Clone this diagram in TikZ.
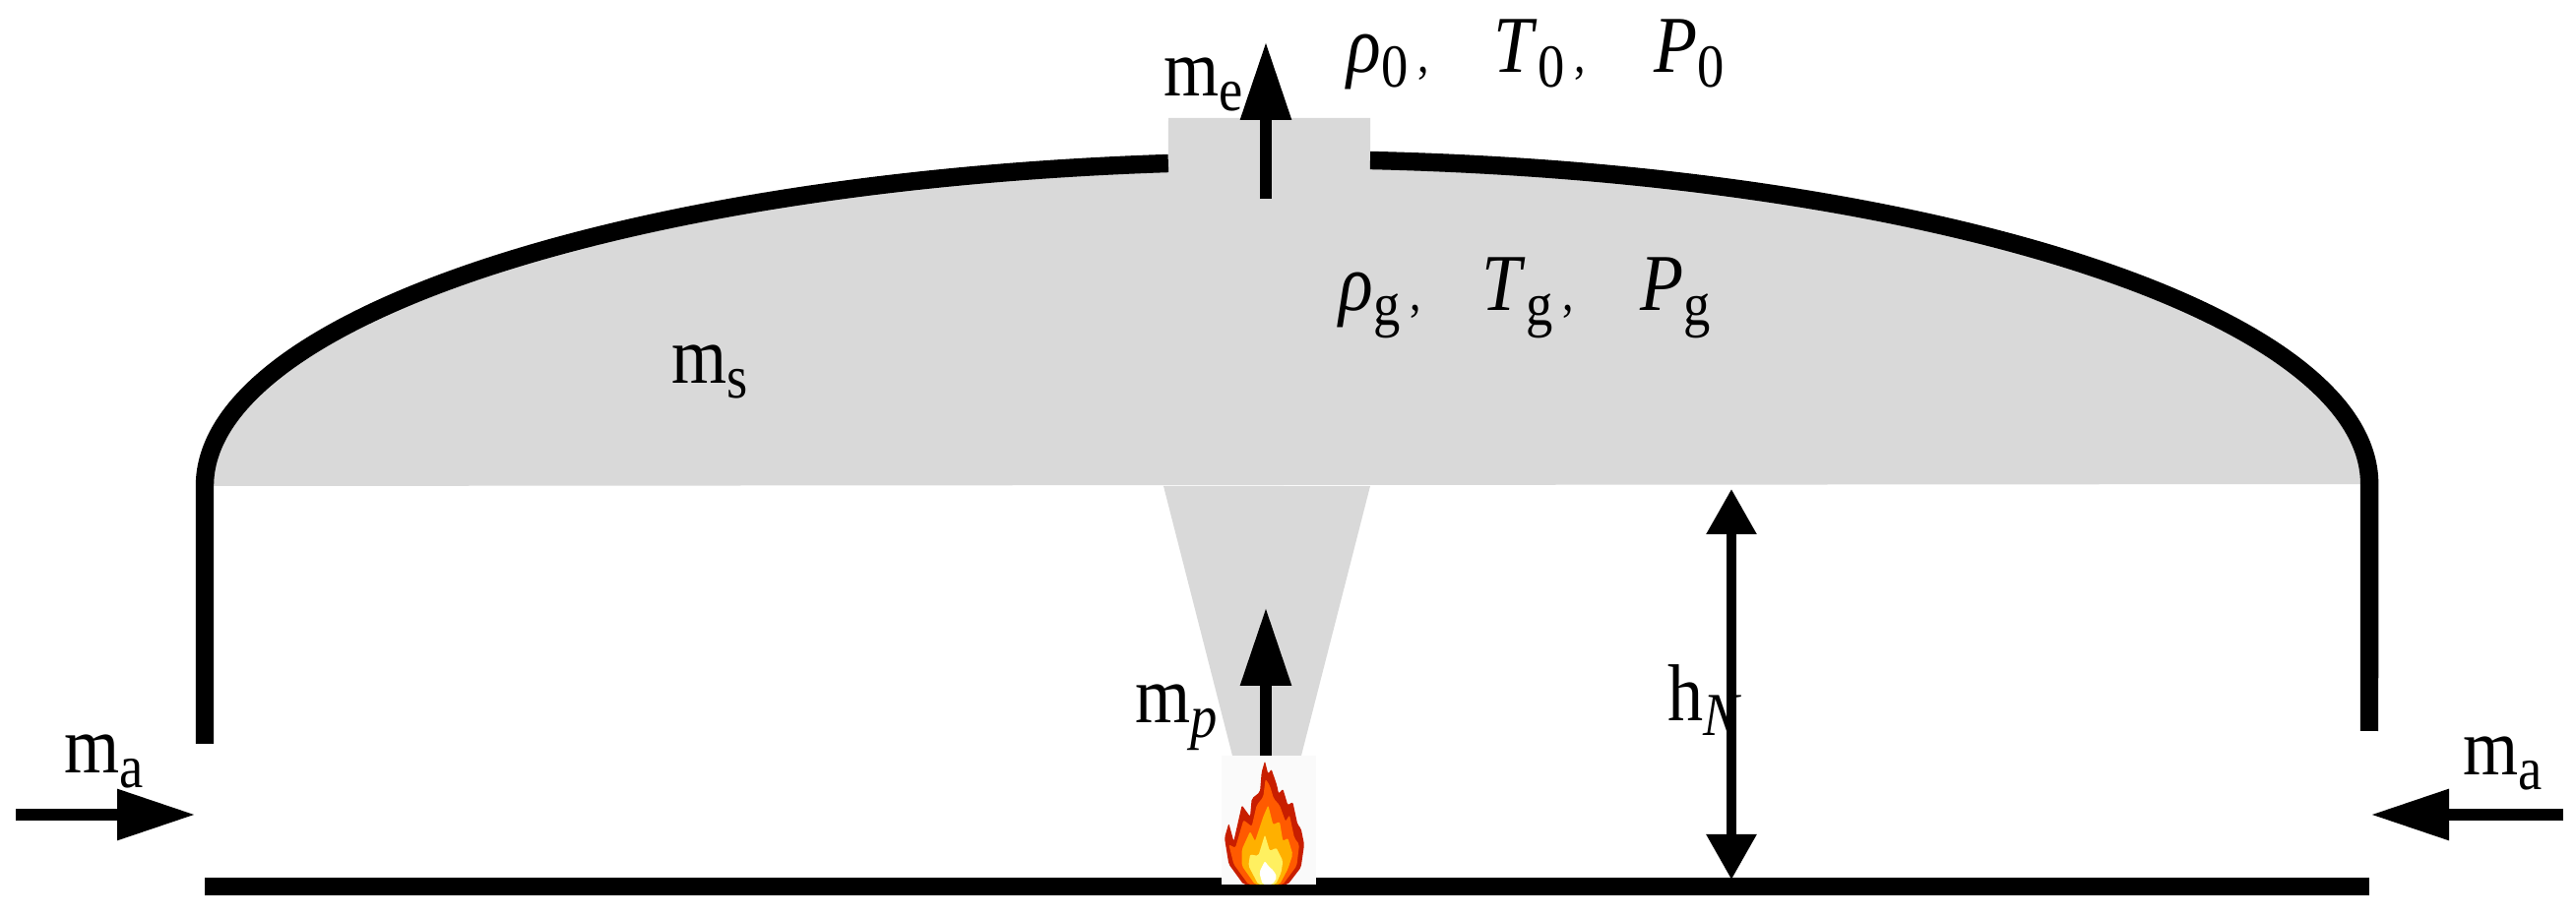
\documentclass[tikz,border=0pt]{standalone}
\usepackage{fontspec}
\setmainfont[FakeStretch=0.88]{Liberation Serif}
\usetikzlibrary{arrows.meta}
\definecolor{smoke}{HTML}{D9D9D9}
\definecolor{flameR}{HTML}{C81E00}
\definecolor{flameO}{HTML}{FF5A00}
\definecolor{flameY}{HTML}{FFB000}
\definecolor{flameL}{HTML}{FFF060}
\tikzset{
  wall/.style={line width=4.6pt,black},
  flowarrow/.style={line width=3.2pt,black,-{Triangle[length=20pt,width=12.2pt]}},
  dimarrow/.style={line width=2.4pt,black,{Triangle[length=11.5pt,width=12.2pt]}-{Triangle[length=11.5pt,width=12.2pt]}},
  lbl/.style={inner sep=0pt,font=\fontsize{20.5}{24}\selectfont,text=black,anchor=base west},
  flame/.style={rounded corners=0.5pt},
}
\newcommand{\subsc}[1]{\raisebox{-3.75pt}{\fontsize{15.5}{15.5}\selectfont #1}}
\newcommand{\cma}{\hspace{2.5pt}{\fontsize{13}{13}\selectfont ,}}
\begin{document}
\begin{tikzpicture}[x=0.25pt,y=0.25pt]
\useasboundingbox (0,0) rectangle (2617,932);
% smoke layer with vent and plume (Y = 932 - pixel y)
\fill[smoke] (208,438) arc[start angle=180,end angle=96.3,x radius=274.875pt,y radius=82.5pt]
  -- (1187,812) -- (1392,812) -- (1392,769)
  arc[start angle=85.6,end angle=0,x radius=274.875pt,y radius=82.5pt] -- cycle;
\fill[smoke] (1182,438) -- (1392,438) -- (1322,164) -- (1252,164) -- cycle;
% walls
\draw[wall] (208,176) -- (208,438) arc[start angle=180,end angle=96.3,x radius=274.875pt,y radius=82.5pt];
\draw[wall] (1392,769) arc[start angle=85.6,end angle=0,x radius=274.875pt,y radius=82.5pt] -- (2407,189);
\draw[wall] (208,31) -- (2407,31);
% fire box
\fill[white!98!black] (1241,164) rectangle (1337,33);
\begin{scope}[shift={(1220,177)},x=0.08333pt,y=-0.08333pt]
\fill[flameR,flame] (130,432) -- (85,370) -- (72,290) -- (85,245) -- (100,300) -- (125,190) -- (150,225) -- (155,170) -- (180,150) -- (185,90) -- (195,55) -- (205,95) -- (215,80) -- (232,130) -- (237,155) -- (250,140) -- (265,190) -- (280,180) -- (295,250) -- (305,260) -- (315,310) -- (305,380) -- (265,432) -- cycle;
\fill[flameO,flame] (145,432) -- (100,370) -- (85,310) -- (105,320) -- (130,235) -- (155,255) -- (170,190) -- (190,165) -- (197,110) -- (210,130) -- (222,170) -- (240,190) -- (258,240) -- (270,220) -- (285,290) -- (300,310) -- (292,375) -- (250,432) -- cycle;
\fill[flameY,flame] (165,432) -- (125,375) -- (125,325) -- (150,270) -- (165,300) -- (190,225) -- (205,190) -- (220,250) -- (240,240) -- (250,300) -- (265,290) -- (280,340) -- (265,385) -- (240,432) -- cycle;
\fill[flameL,flame] (175,432) -- (145,375) -- (150,340) -- (175,345) -- (195,280) -- (210,330) -- (230,320) -- (250,360) -- (245,395) -- (228,432) -- cycle;
\fill[white,flame] (188,432) -- (178,395) -- (195,360) -- (205,375) -- (222,390) -- (232,410) -- (218,432) -- cycle;
\end{scope}
% labels (drawn under the arrows, as in the reference)
\node[lbl] (me) at (1182,834) {m\subsc{e}};
\node[lbl] (rho0) at (1368,858) {\textit{ρ}\subsc{0}\cma};
\node[lbl] (T0) at (1517,858) {\textit{T}\subsc{0}\cma};
\node[lbl] (P0) at (1680,858) {\textit{P}\subsc{0}};
\node[lbl] (rhog) at (1360,616) {\textit{ρ}\subsc{g}\cma};
\node[lbl] (Tg) at (1505,616) {\textit{T}\subsc{g}\cma};
\node[lbl] (Pg) at (1666,616) {\textit{P}\subsc{g}};
\node[lbl] (ms) at (682,542) {m\subsc{s}};
\node[lbl] (mp) at (1153,197) {m\subsc{\textit{p}}};
\node[lbl] (hN) at (1694,199) {h\subsc{\textit{N}}};
\node[lbl] (maL) at (65,146) {m\subsc{a}};
\node[lbl] (maR) at (2502,144) {m\subsc{a}};
% arrows
\coordinate (ventbottom) at (1286,730);
\coordinate (venttop) at (1286,890);
\coordinate (plumebottom) at (1286,164);
\coordinate (plumetop) at (1286,315);
\coordinate (dimtop) at (1759,435);
\coordinate (dimbottom) at (1759,38);
\coordinate (airLa) at (16,104);
\coordinate (airLb) at (199,104);
\coordinate (airRa) at (2604,104);
\coordinate (airRb) at (2408,104);
\draw[flowarrow] (ventbottom) -- (venttop);
\draw[flowarrow] (plumebottom) -- (plumetop);
\draw[dimarrow] (dimtop) -- (dimbottom);
\draw[flowarrow] (airLa) -- (airLb);
\draw[flowarrow] (airRa) -- (airRb);
\end{tikzpicture}
\end{document}
